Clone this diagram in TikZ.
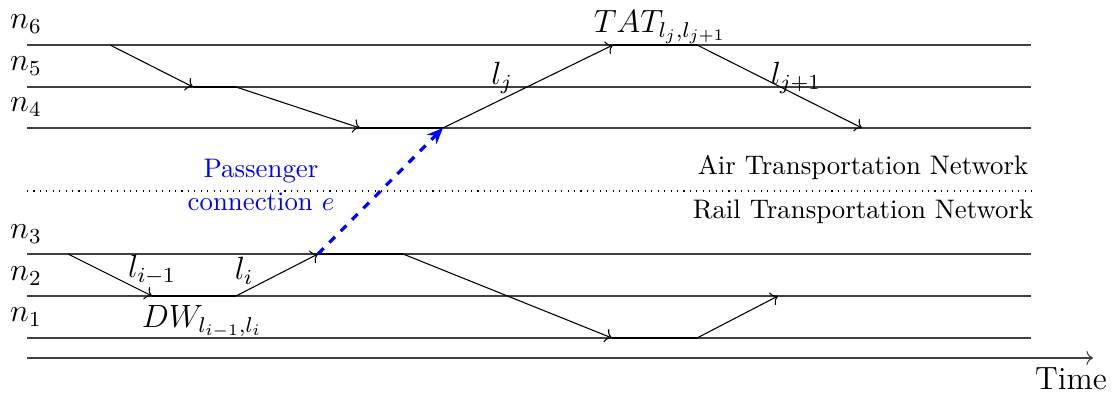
\documentclass[tikz,border=0pt]{standalone}
\usetikzlibrary{arrows.meta}
\begin{document}
\begin{tikzpicture}[x=0.0131cm,y=-0.0131cm,
  track/.style={draw=black!75, line width=0.4pt},
  move/.style={draw=black, ->},
  dwell/.style={draw=black, line width=0.5pt},
  conn/.style={draw=blue, -{Stealth[length=6pt,width=5pt]}, very thick, dashed},
  lab/.style={inner sep=0pt, font=\large},
  netlab/.style={inner sep=0pt}]
\useasboundingbox (0,0) rectangle (1112,394);
% tracks
\foreach \k/\y in {6/45,5/87,4/128,3/254,2/296,1/338} {
  \coordinate (L\k) at (27,\y);
  \coordinate (R\k) at (1031,\y);
  \draw[track] (L\k) -- (R\k);
}
\node[lab] (n6) at (26,24) {$n_6$};
\node[lab] (n5) at (26,66) {$n_5$};
\node[lab] (n4) at (26,107) {$n_4$};
\node[lab] (n3) at (26,234) {$n_3$};
\node[lab] (n2) at (26,276) {$n_2$};
\node[lab] (n1) at (26,317) {$n_1$};
% separator
\coordinate (sepL) at (27,191);
\coordinate (sepR) at (1031,191);
\draw[dotted] (sepL) -- (sepR);
\node[netlab] (air) at (863,168) {Air Transportation Network};
\node[netlab] (rail) at (863,212) {Rail Transportation Network};
% time axis
\coordinate (t0) at (27,358);
\coordinate (t1) at (1093,358);
\draw[track,->] (t0) -- (t1);
\node[lab] (time) at (1071,379) {Time};
% air itinerary
\coordinate (a1) at (110,45);
\coordinate (a2) at (193,87);
\coordinate (a3) at (236,87);
\coordinate (a4) at (360,128);
\coordinate (a5) at (443,128);
\coordinate (a6) at (613,45);
\coordinate (a7) at (697,45);
\coordinate (a8) at (862,128);
\draw[move] (a1) -- (a2);
\draw[dwell] (a2) -- (a3);
\draw[move] (a3) -- (a4);
\draw[dwell] (a4) -- (a5);
\draw[move] (a5) -- (a6);
\draw[dwell] (a6) -- (a7);
\draw[move] (a7) -- (a8);
% rail itinerary
\coordinate (r1) at (68,254);
\coordinate (r2) at (152,296);
\coordinate (r3) at (236,296);
\coordinate (r4) at (318,254);
\coordinate (r5) at (403,254);
\coordinate (r6) at (612,338);
\coordinate (r7) at (697,338);
\coordinate (r8) at (778,296);
\draw[move] (r1) -- (r2);
\draw[dwell] (r2) -- (r3);
\draw[move] (r3) -- (r4);
\draw[dwell] (r4) -- (r5);
\draw[move] (r5) -- (r6);
\draw[dwell] (r6) -- (r7);
\draw[move] (r7) -- (r8);
% connection
\draw[conn] (r4) -- (a5);
\node[inner sep=0pt, text=blue, align=center] (pc) at (261,185) {Passenger\\connection $e$};
% labels
\node[lab] (lj) at (502,78) {$l_j$};
\node[lab] (lj1) at (796,78) {$l_{j+1}$};
\node[lab] (tat) at (660,27) {$TAT_{l_j,l_{j+1}}$};
\node[lab] (li1) at (152,270) {$l_{i-1}$};
\node[lab] (li) at (244,271) {$l_i$};
\node[lab] (dw) at (202,322) {$DW_{l_{i-1},l_i}$};
\end{tikzpicture}
\end{document}
